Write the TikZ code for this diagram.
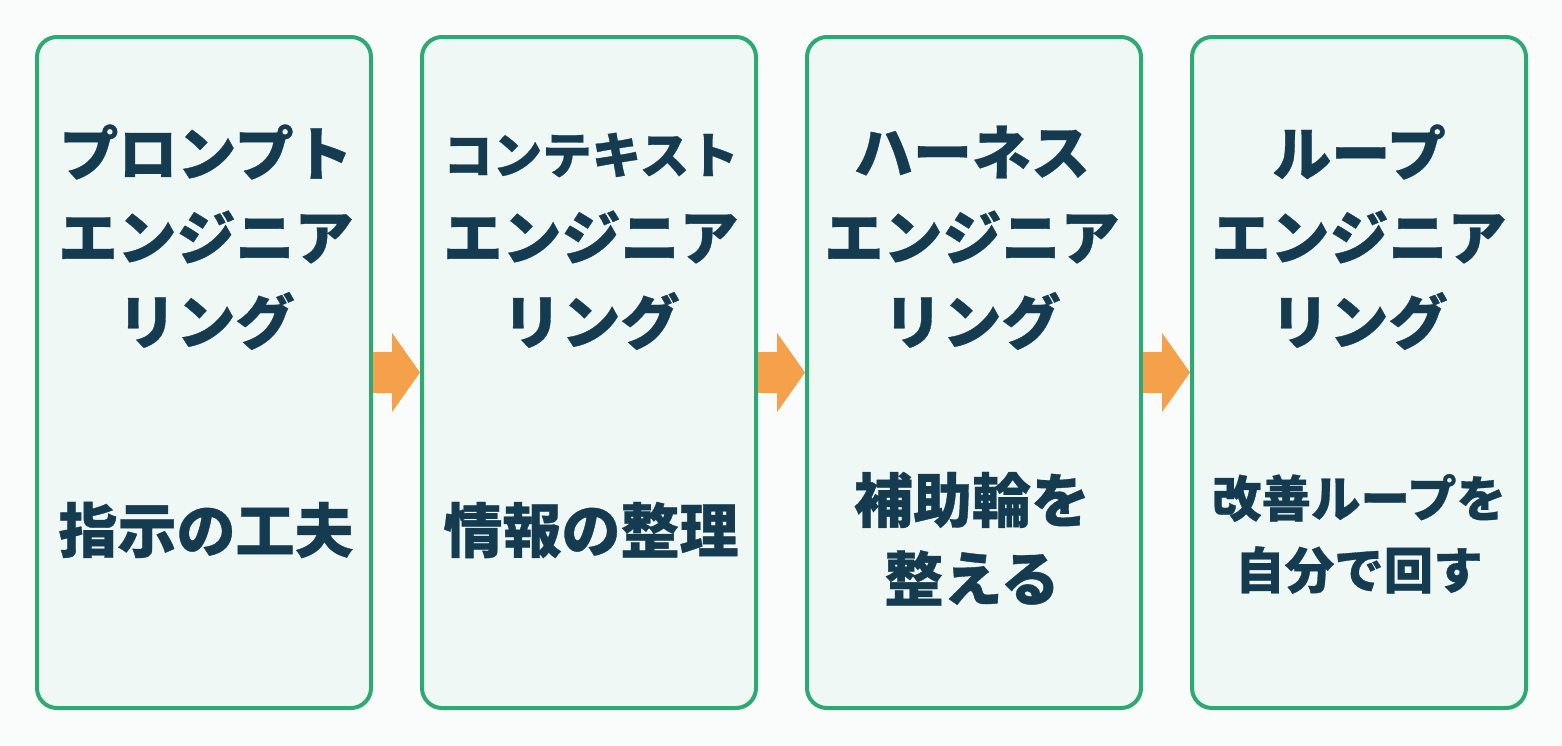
\documentclass[tikz,border=0pt]{standalone}
\usepackage{fontspec}
\newfontfamily\jp{Noto Sans CJK JP}[BoldFeatures={FakeBold=0.6}]
\usetikzlibrary{arrows.meta}
\definecolor{cardgreen}{HTML}{2DAA74}
\definecolor{cardfill}{HTML}{F0F8F5}
\definecolor{bgcol}{HTML}{FAFCFC}
\definecolor{ink}{HTML}{153B50}
\definecolor{arrowcol}{HTML}{F5A04A}
\begin{document}
\begin{tikzpicture}[x=1pt,y=-1pt,
  card/.style={draw=cardgreen, line width=4pt, fill=cardfill, rounded corners=20pt,
    minimum width=334pt, minimum height=671pt, inner sep=0pt},
  ttl/.style={font=\jp\bfseries\fontsize{59}{59}\selectfont, text=ink, inner sep=0pt},
  ttls/.style={font=\jp\bfseries\fontsize{49.5}{49.5}\selectfont, text=ink, inner sep=0pt},
  flow/.style={draw=arrowcol, line width=41pt, -{Triangle[length=28pt,width=78pt,fill=arrowcol]}}]
\fill[bgcol] (0,0) rectangle (1562,745);
\useasboundingbox (0,0) rectangle (1562,745);
\node[card] (b1) at (204,372.5) {};
\node[card] (b2) at (589,372.5) {};
\node[card] (b3) at (974,372.5) {};
\node[card] (b4) at (1359,372.5) {};
\draw[flow] (b1.east) -- (b2.west);
\draw[flow] (b2.east) -- (b3.west);
\draw[flow] (b3.east) -- (b4.west);
% box 1
\node[ttl] (t1a) at (206,152) {プロンプト};
\node[ttl] (t1b) at (206,237) {エンジニア};
\node[ttl] (t1c) at (206,321) {リング};
\node[ttl] (s1) at (206,530) {指示の工夫};
% box 2
\node[ttls] (t2a) at (591,155) {コンテキスト};
\node[ttl] (t2b) at (591,237) {エンジニア};
\node[ttl] (t2c) at (591,321) {リング};
\node[ttl] (s2) at (591,530) {情報の整理};
% box 3
\node[ttl] (t3a) at (972,152) {ハーネス};
\node[ttl] (t3b) at (972,237) {エンジニア};
\node[ttl] (t3c) at (972,321) {リング};
\node[ttl] (s3a) at (972,500) {補助輪を};
\node[ttl] (s3b) at (972,578) {整える};
% box 4
\node[ttl] (t4a) at (1359,152) {ループ};
\node[ttl] (t4b) at (1359,237) {エンジニア};
\node[ttl] (t4c) at (1359,321) {リング};
\node[ttls] (s4a) at (1359,498) {改善ループを};
\node[ttls] (s4b) at (1359,570) {自分で回す};
\end{tikzpicture}
\end{document}
